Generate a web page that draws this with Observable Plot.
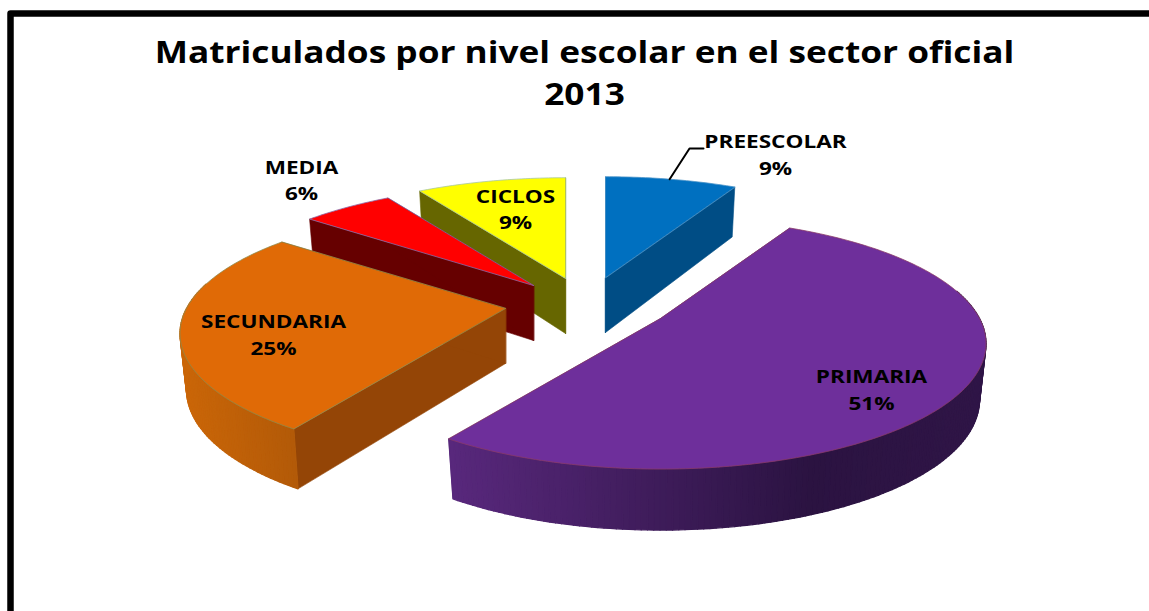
<!DOCTYPE html>
<html>
<head>
<meta charset="utf-8">
<script src="https://cdn.jsdelivr.net/npm/d3@7"></script>
<script src="https://cdn.jsdelivr.net/npm/@observablehq/plot@0.6"></script>
<style>
html,body{margin:0;padding:0;background:#fff;overflow:hidden}
svg{display:block}
</style>
</head>
<body>
<div id="chart"></div>
<script>
// Data
const titleLines = ["Matriculados por nivel escolar en el sector oficial", "2013"];
const levels = ["PREESCOLAR", "PRIMARIA", "SECUNDARIA", "MEDIA", "CICLOS"];
const shares = [9, 51, 25, 6, 9];

// Styles
const topColors  = ["#0070c0", "#6e2f9b", "#e06a06", "#ff0000", "#ffff00"];
const edgeColors = ["#4a93c8", "#8a3a6a", "#8f8a4a", "#8a6aa8", "#a8c8a0"];
const wallColors = ["#004d85", "#4a2270", "#944506", "#660000", "#666600"];
const outerLeft  = ["#004d85", "#58287c", "#ca6608", "#660000", "#666600"];
const outerMid   = ["#004d85", "#2b1341", "#b35a08", "#660000", "#666600"];

// Layout of the tilted, exploded pie
const chartW = 1149, chartH = 611;
const RX = 319, RY = 131;
const apexX = [605, 660, 505, 533, 565];
const apexY = [277, 318, 308, 285, 278];
const labelX = [775, 871, 273, 301, 515];
const labelY = [155, 390, 335, 180.5, 209.5];
const labelGap = 26.5;
const backTwist = 2.2 * Math.PI / 180;
const titleStretch = 1.155, labelStretch = 1.22;
const paintOrder = [0, 4, 3, 2, 1];

const total = d3.sum(shares);
const slices = d3.pie().sort(null).value(d => d)(shares);

// angle (clockwise from 12 o'clock) -> screen position with perspective foreshortening
function topPoint(i, angle) {
  const a = angle - backTwist * Math.sin(3 * angle) ** 2 * (1 + Math.cos(angle)) / 2;
  const u = Math.sin(a), v = Math.cos(a);
  const s = 1 / (1 + 0.215 * v + 0.085 * v * v);
  return {x: apexX[i] + RX * u * s, y: apexY[i] - RY * v * s};
}
function bottomPoint(i, p, v) {
  return {x: apexX[i] + (p.x - apexX[i]) * 0.98, y: p.y + 55 - 6 * v};
}
const apexTop = i => ({x: apexX[i], y: apexY[i]});
const apexBottom = i => ({x: apexX[i], y: apexY[i] + 55});

function poly(pts, fill, stroke, sw) {
  return Plot.line(pts, {x: "x", y: "y", fill, stroke: stroke || fill, strokeWidth: sw ?? 0.6, curve: "linear-closed"});
}

const marks = [];
for (const i of paintOrder) {
  const a0 = slices[i].startAngle, a1 = slices[i].endAngle;
  const n = Math.max(2, Math.ceil((a1 - a0) / (Math.PI / 180)));
  const angles = d3.range(n + 1).map(k => a0 + (a1 - a0) * k / n);
  const arc = angles.map(a => topPoint(i, a));
  // radial walls
  for (const a of [a0, a1]) {
    const p = topPoint(i, a);
    marks.push(poly([apexTop(i), p, bottomPoint(i, p, Math.cos(a)), apexBottom(i)], wallColors[i]));
  }
  // outer wall, shaded along x
  const purpleShade = d3.scaleLinear().domain([449, 810, 985]).range([0, 1, 0.9]).clamp(true);
  const orangeShade = d3.scaleLinear().domain([181, 291]).range([0, 1]).clamp(true);
  const mix = d3.interpolateRgb(outerLeft[i], outerMid[i]);
  for (let k = 0; k < n; k++) {
    const v0 = Math.cos(angles[k]), v1 = Math.cos(angles[k + 1]);
    if (Math.min(v0, v1) > 0.2) continue;
    const p0 = arc[k], p1 = arc[k + 1];
    const mid = (p0.x + p1.x) / 2;
    const t = i === 1 ? purpleShade(mid) : i === 2 ? orangeShade(mid) : 0;
    marks.push(poly([p0, p1, bottomPoint(i, p1, v1), bottomPoint(i, p0, v0)], mix(t), mix(t), 1.3));
  }
  // top face
  marks.push(poly([apexTop(i), ...arc], topColors[i], edgeColors[i], 0.8));
}

// leader line from the PREESCOLAR slice to its label
const leaderStart = topPoint(0, (slices[0].startAngle + slices[0].endAngle) / 2);
marks.push(Plot.line([leaderStart, {x: 689, y: 148}, {x: 703, y: 148}], {x: "x", y: "y", stroke: "#000", strokeWidth: 2}));

// slice labels: one row per text line
const labelRows = levels.flatMap((name, i) => [
  {text: name, x: labelX[i], y: labelY[i] - labelGap / 2},
  {text: `${Math.round(shares[i] / total * 100)}%`, x: labelX[i], y: labelY[i] + labelGap / 2}
]);
marks.push(Plot.text(labelRows, {
  x: "x", y: "y", text: "text", fill: "#000", fontSize: 18.5, fontWeight: 700,
  fontFamily: "'Open Sans'", textAnchor: "middle", lineAnchor: "middle", className: "pie-label"
}));

// title
marks.push(Plot.text(titleLines, {
  x: () => 584, y: (d, i) => 53 + i * 42, text: d => d, fill: "#000", fontSize: 30.5, fontWeight: 700,
  fontFamily: "'Open Sans'", textAnchor: "middle", lineAnchor: "middle", className: "pie-title"
}));

// frame (open at the right and bottom page edges)
marks.push(Plot.line([{x: 10, y: chartH + 20}, {x: 10, y: 13}, {x: chartW + 20, y: 13}], {x: "x", y: "y", stroke: "#000", strokeWidth: 6.5}));

const chart = Plot.plot({
  width: chartW, height: chartH, margin: 0,
  x: {domain: [0, chartW], range: [0, chartW], axis: null},
  y: {domain: [0, chartH], range: [0, chartH], axis: null},
  marks
});
document.getElementById("chart").append(chart);

// the reference's text is horizontally stretched
for (const [selector, stretch] of [[".pie-label text", labelStretch], [".pie-title text", titleStretch]]) {
  chart.querySelectorAll(selector).forEach(t => {
    t.setAttribute("textLength", t.getComputedTextLength() * stretch);
    t.setAttribute("lengthAdjust", "spacingAndGlyphs");
  });
}
</script>
</body>
</html>
